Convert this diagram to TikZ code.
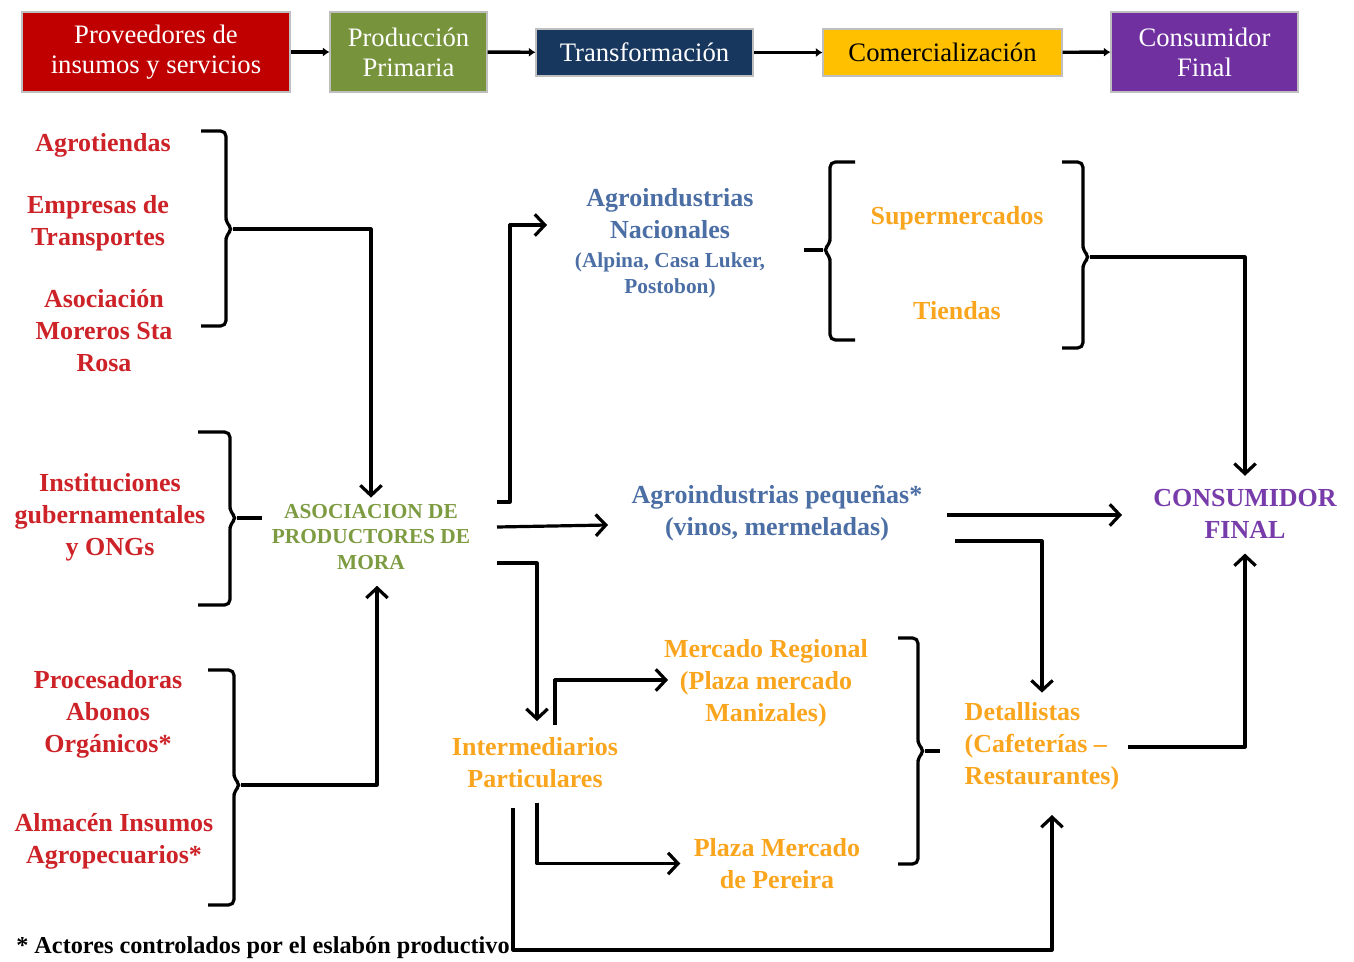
\documentclass[tikz,border=0pt]{standalone}
\usepackage{fontspec}
\setmainfont{Liberation Serif}
\usetikzlibrary{arrows.meta}
\definecolor{hred}{RGB}{192,0,0}
\definecolor{hgreen}{RGB}{119,147,60}
\definecolor{hnavy}{RGB}{23,55,94}
\definecolor{hyellow}{RGB}{255,192,0}
\definecolor{hpurple}{RGB}{112,48,160}
\definecolor{tred}{RGB}{205,35,40}
\definecolor{tgreen}{RGB}{125,155,65}
\definecolor{tblue}{RGB}{75,110,165}
\definecolor{torange}{RGB}{250,165,30}
\definecolor{tpurple}{RGB}{120,60,170}
\begin{document}
\begin{tikzpicture}[x=0.75pt,y=-0.75pt,
  hdr/.style={draw=black!25, line width=0.8pt, text=white, font=\fontsize{20}{22.5}\selectfont, align=center, inner sep=0pt},
  lbl/.style={font=\bfseries\fontsize{19.5}{24}\selectfont, align=center, inner sep=2pt},
  small/.style={font=\bfseries\fontsize{16}{20}\selectfont, align=center, inner sep=2pt},
  conn/.style={line width=2.4pt, line join=round},
  arr/.style={conn, -{Straight Barb[length=7.5pt,width=16pt]}},
  harr/.style={line width=2.6pt, -{Latex[length=5pt,width=7pt]}},
  brk/.style={line width=2.4pt, rounded corners=4pt}
]
\fill[white] (0,0) rectangle (1354,962);
\useasboundingbox (0,0) rectangle (1354,962);

% header
\node[hdr, fill=hred, minimum width=201pt, minimum height=60pt] (h1) at (156,52) {Proveedores de\\insumos y servicios};
\node[hdr, fill=hgreen, minimum width=117.75pt, minimum height=60pt] (h2) at (408.5,52) {Producción\\Primaria};
\node[hdr, fill=hnavy, minimum width=162.75pt, minimum height=35.25pt] (h3) at (644.5,52.5) {Transformación};
\node[hdr, fill=hyellow, text=black, minimum width=179.25pt, minimum height=35.25pt] (h4) at (942.5,52.5) {Comercialización};
\node[hdr, fill=hpurple, minimum width=140.25pt, minimum height=60pt] (h5) at (1204.5,52) {Consumidor\\Final};
\draw[harr] (h1) -- (h2);
\draw[harr] (h2) -- (h3);
\draw[harr] (h3) -- (h4);
\draw[harr] (h4) -- (h5);

% left labels
\node[lbl, text=tred] (agro) at (103,145) {Agrotiendas};
\node[lbl, text=tred] (emp) at (98,223) {Empresas de\\Transportes};
\node[lbl, text=tred] (asoc) at (104,331) {Asociación\\Moreros Sta\\Rosa};
\node[lbl, text=tred] (inst) at (110,517) {Instituciones\\gubernamentales\\y ONGs};
\node[lbl, text=tred] (proc) at (108,714) {Procesadoras\\Abonos\\Orgánicos*};
\node[lbl, text=tred] (alm) at (114,841) {Almacén Insumos\\Agropecuarios*};

% centre
\node[font=\bfseries\fontsize{16}{19}\selectfont, align=center, inner sep=2pt, text=tgreen] (aso) at (371,537) {ASOCIACION DE\\PRODUCTORES DE\\MORA};
\node[lbl, text=tblue] (agn) at (670,214) {Agroindustrias\\Nacionales};
\node[small, text=tblue] (agn2) at (670,275.5) {(Alpina, Casa Luker,\\Postobon)};
\node[lbl, text=torange] (sup) at (957,218) {Supermercados};
\node[lbl, text=torange] (tie) at (957,311) {Tiendas};
\node[lbl, text=tblue] (agp) at (777,513) {Agroindustrias pequeñas*\\(vinos, mermeladas)};
\node[lbl, text=tpurple] (cons) at (1245,514) {CONSUMIDOR\\FINAL};
\node[lbl, text=torange] (inter) at (535,762.5) {Intermediarios\\Particulares};
\node[lbl, text=torange] (merc) at (766,683) {Mercado Regional\\(Plaza mercado\\Manizales)};
\node[lbl, text=torange] (plaza) at (777,863.5) {Plaza Mercado\\de Pereira};
\node[lbl, text=torange, align=left] (det) at (1042,746) {Detallistas\\(Cafeterías –\\Restaurantes)};
\node[font=\bfseries\fontsize{18.2}{20}\selectfont, anchor=west, inner sep=0pt] (foot) at (16,948) {* Actores controlados por el eslabón productivo};

% brackets
\draw[brk] (201,131) -- (226,131) -- (226,223) -- (233,229) -- (226,235) -- (226,326) -- (201,326);
\draw[brk] (198,432) -- (230,432) -- (230,512) -- (237,518) -- (230,524) -- (230,605) -- (198,605);
\draw[brk] (208,670) -- (234,670) -- (234,779) -- (241,785) -- (234,791) -- (234,905) -- (208,905);
\draw[brk] (855,162) -- (830,162) -- (830,244) -- (823,250) -- (830,256) -- (830,340) -- (855,340);
\draw[brk] (1062,162) -- (1083,162) -- (1083,251) -- (1090,257) -- (1083,263) -- (1083,348) -- (1062,348);
\draw[brk] (898,638) -- (918,638) -- (918,745) -- (925,751) -- (918,757) -- (918,864) -- (898,864);
\draw[conn] (237,518) -- (262,518);
\draw[conn] (823,250) -- (804,250);
\draw[conn] (925,751) -- (940,751);

% coordinates
\coordinate (b1) at (233,229);
\coordinate (b3) at (241,785);
\coordinate (b5) at (1090,257);
\coordinate (o1) at (497,502);
\coordinate (o2) at (497,527);
\coordinate (o3) at (497,563);
\coordinate (agnin) at (547,225);
\coordinate (agpin) at (608,525);
\coordinate (a7s) at (947,515);
\coordinate (consin) at (1122,515);
\coordinate (a8s) at (955,541);
\coordinate (a9s) at (555,725);
\coordinate (mercin) at (668,680);
\coordinate (a11s) at (1128,747);
\coordinate (a12s) at (513,808);
\coordinate (detin) at (1052,815);

% connectors
\draw[arr] (b1) -| ([yshift=3pt]aso.north);
\draw[arr] (b3) -| ([xshift=4.5pt,yshift=-10pt]aso.south);
\draw[arr] (o1) -- ++(13,0) |- (agnin);
\draw[arr] (o2) -- (agpin);
\draw[arr] (o3) -| ([xshift=1.5pt,yshift=10pt]inter.north);
\draw[arr] (b5) -| ([yshift=8pt]cons.north);
\draw[arr] (a7s) -- (consin);
\draw[arr] (a8s) -| ([yshift=5pt]det.north);
\draw[arr] (a9s) |- (mercin);
\draw[arr] ([xshift=1.5pt,yshift=-9pt]inter.south) |- ([xshift=-8pt]plaza.west);
\draw[arr] (a11s) -| ([yshift=-9pt]cons.south);
\draw[arr] (a12s) -- ++(0,142) -| (detin);
\end{tikzpicture}
\end{document}
